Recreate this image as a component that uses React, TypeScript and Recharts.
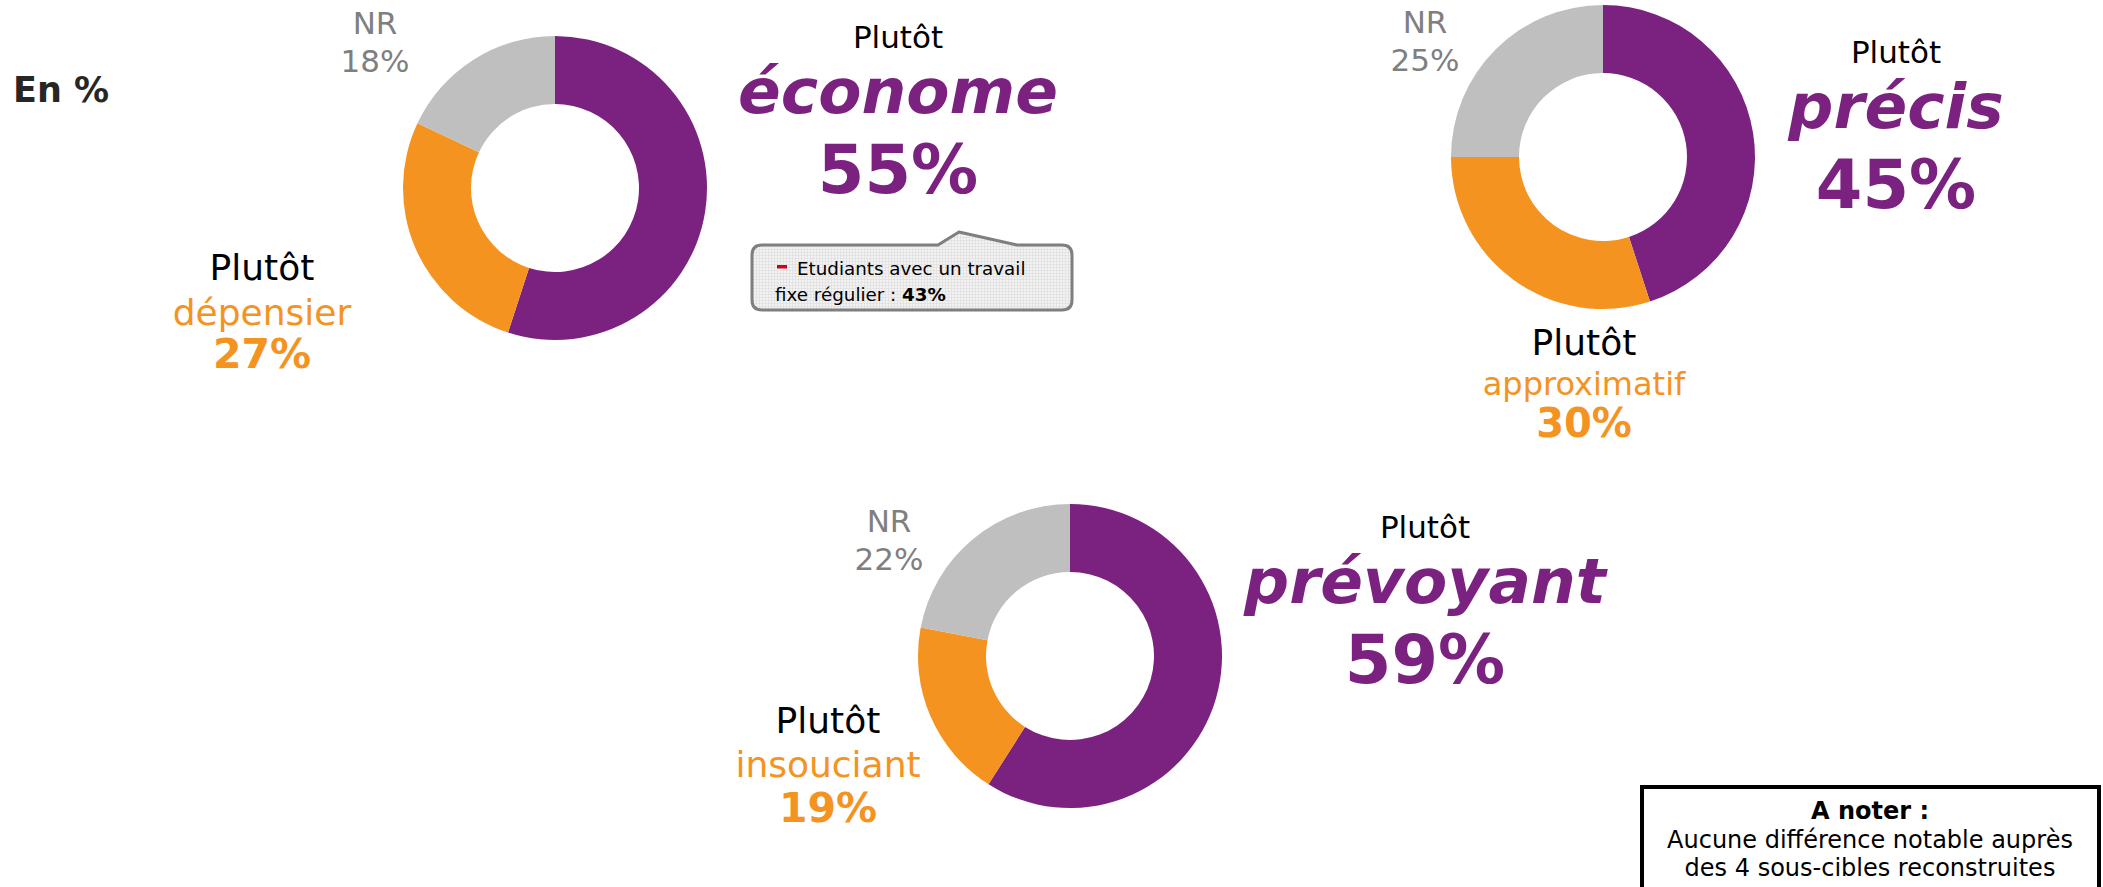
import React from 'react';
import { PieChart, Pie, Cell } from 'recharts';

// ---- Data ----
const sliceKeys = ['positif', 'negatif', 'NR'];
const economeValues = [55, 27, 18];
const precisValues = [45, 30, 25];
const prevoyantValues = [59, 19, 22];
const sliceColors = ['#7B2280', '#F4931F', '#BFBFBF'];

const economeLabels = ['économe', 'dépensier', 'NR'];
const precisLabels = ['précis', 'approximatif', 'NR'];
const prevoyantLabels = ['prévoyant', 'insouciant', 'NR'];

const calloutLine1 = 'Etudiants avec un travail';
const calloutLine2 = 'fixe régulier : ';
const calloutValue = 43;
const noteTitle = 'A noter :';
const noteLines = ['Aucune différence notable auprès', 'des 4 sous-cibles reconstruites'];
const unitLabel = 'En %';

const W = 2103;
const H = 887;
const FONT = '"DejaVu Sans", Verdana, sans-serif';
const PURPLE = sliceColors[0];
const ORANGE = sliceColors[1];
const GREY_TXT = '#7F7F7F';

const build = (vals: number[], labels: string[]) =>
  vals.map((v, i) => ({ key: sliceKeys[i], name: labels[i], value: v }));

const economeData = build(economeValues, economeLabels);
const precisData = build(precisValues, precisLabels);
const prevoyantData = build(prevoyantValues, prevoyantLabels);

const donuts = [
  { id: 'eco', data: economeData, cx: 555, cy: 188 },
  { id: 'pre', data: precisData, cx: 1603, cy: 157 },
  { id: 'prv', data: prevoyantData, cx: 1070, cy: 656 },
];

type Block = {
  data: { name: string; value: number }[];
  nr: { x: number; y: number };
  pos: { x: number; y: number; big: number };
  neg: { x: number; y: number; size: number; pctSize: number; gap1: number; gap2: number };
};

const blocks: Block[] = [
  {
    data: economeData,
    nr: { x: 375, y: 34 },
    pos: { x: 898, y: 48, big: 63 },
    neg: { x: 262, y: 280, size: 36, pctSize: 41, gap1: 45, gap2: 88 },
  },
  {
    data: precisData,
    nr: { x: 1425, y: 33 },
    pos: { x: 1896, y: 63, big: 63 },
    neg: { x: 1584, y: 355, size: 32, pctSize: 40, gap1: 40, gap2: 82 },
  },
  {
    data: prevoyantData,
    nr: { x: 889, y: 532 },
    pos: { x: 1425, y: 538, big: 63 },
    neg: { x: 828, y: 733, size: 36, pctSize: 41, gap1: 44, gap2: 89 },
  },
];

const posOffsets = [0, 65, 145];

function Labels() {
  return (
    <g fontFamily={FONT}>
      {blocks.map((b, i) => (
        <g key={i}>
          <text x={b.nr.x} y={b.nr.y} textAnchor="middle" fontSize={31} fill={GREY_TXT}>
            {b.data[2].name}
          </text>
          <text x={b.nr.x} y={b.nr.y + 38} textAnchor="middle" fontSize={31} fill={GREY_TXT}>
            {b.data[2].value}%
          </text>
          <text x={b.pos.x} y={b.pos.y} textAnchor="middle" fontSize={31} fill="#000">
            Plutôt
          </text>
          <text
            x={b.pos.x}
            y={b.pos.y + posOffsets[1]}
            textAnchor="middle"
            fontSize={b.pos.big}
            fontWeight="bold"
            fontStyle="italic"
            fill={PURPLE}
          >
            {b.data[0].name}
          </text>
          <text
            x={b.pos.x}
            y={b.pos.y + posOffsets[2]}
            textAnchor="middle"
            fontSize={67}
            fontWeight="bold"
            fill={PURPLE}
          >
            {b.data[0].value}%
          </text>
          <text x={b.neg.x} y={b.neg.y} textAnchor="middle" fontSize={36} fill="#000">
            Plutôt
          </text>
          <text x={b.neg.x} y={b.neg.y + b.neg.gap1} textAnchor="middle" fontSize={b.neg.size} fill={ORANGE}>
            {b.data[1].name}
          </text>
          <text
            x={b.neg.x}
            y={b.neg.y + b.neg.gap2}
            textAnchor="middle"
            fontSize={b.neg.pctSize}
            fontWeight="bold"
            fill={ORANGE}
          >
            {b.data[1].value}%
          </text>
        </g>
      ))}

      <text x={13} y={102} fontSize={35} fontWeight="bold" fill="#262626">
        {unitLabel}
      </text>

      {/* Callout */}
      <defs>
        <pattern id="grid" width="3" height="3" patternUnits="userSpaceOnUse">
          <rect width="3" height="3" fill="#F2F2F2" />
          <path d="M0 0 H3 M0 0 V3" stroke="#D9D9D9" strokeWidth="1" />
        </pattern>
      </defs>
      <path
        d="M762 245 L938 245 L959 232 L1017 245 L1062 245 Q1072 245 1072 255 L1072 300 Q1072 310 1062 310 L762 310 Q752 310 752 300 L752 255 Q752 245 762 245 Z"
        fill="url(#grid)"
        stroke="#7F7F7F"
        strokeWidth={3}
        strokeLinejoin="round"
      />
      <rect x={777} y={265} width={10} height={3.5} fill="#D0021B" />
      <text x={797} y={275} fontSize={18.3} fill="#000">
        {calloutLine1}
      </text>
      <text x={775} y={301} fontSize={18.3} fill="#000">
        {calloutLine2}
        <tspan fontWeight="bold">{calloutValue}%</tspan>
      </text>

      {/* Note box */}
      <rect x={1642} y={787} width={457} height={110} fill="#fff" stroke="#000" strokeWidth={4} />
      <text x={1870} y={819} textAnchor="middle" fontSize={24} fontWeight="bold" fill="#000">
        {noteTitle}
      </text>
      <text x={1870} y={848} textAnchor="middle" fontSize={24} fill="#000">
        {noteLines[0]}
      </text>
      <text x={1870} y={876} textAnchor="middle" fontSize={24} fill="#000">
        {noteLines[1]}
      </text>
    </g>
  );
}

export default function App() {
  return (
    <div style={{ position: 'absolute', left: 0, top: 0, width: W, height: H, background: '#fff' }}>
      <div style={{ position: 'absolute', left: 0, top: 0 }}>
        <PieChart width={W} height={H} margin={{ top: 0, right: 0, bottom: 0, left: 0 }}>
          {donuts.map((d) => (
            <Pie
              key={d.id}
              data={d.data}
              dataKey="value"
              nameKey="name"
              cx={d.cx}
              cy={d.cy}
              innerRadius={84}
              outerRadius={152}
              startAngle={90}
              endAngle={-270}
              stroke="none"
              isAnimationActive={false}
            >
              {d.data.map((_, i) => (
                <Cell key={i} fill={sliceColors[i]} />
              ))}
            </Pie>
          ))}
        </PieChart>
      </div>
      <svg
        width={W}
        height={H}
        style={{ position: 'absolute', left: 0, top: 0, pointerEvents: 'none' }}
      >
        <Labels />
      </svg>
    </div>
  );
}
